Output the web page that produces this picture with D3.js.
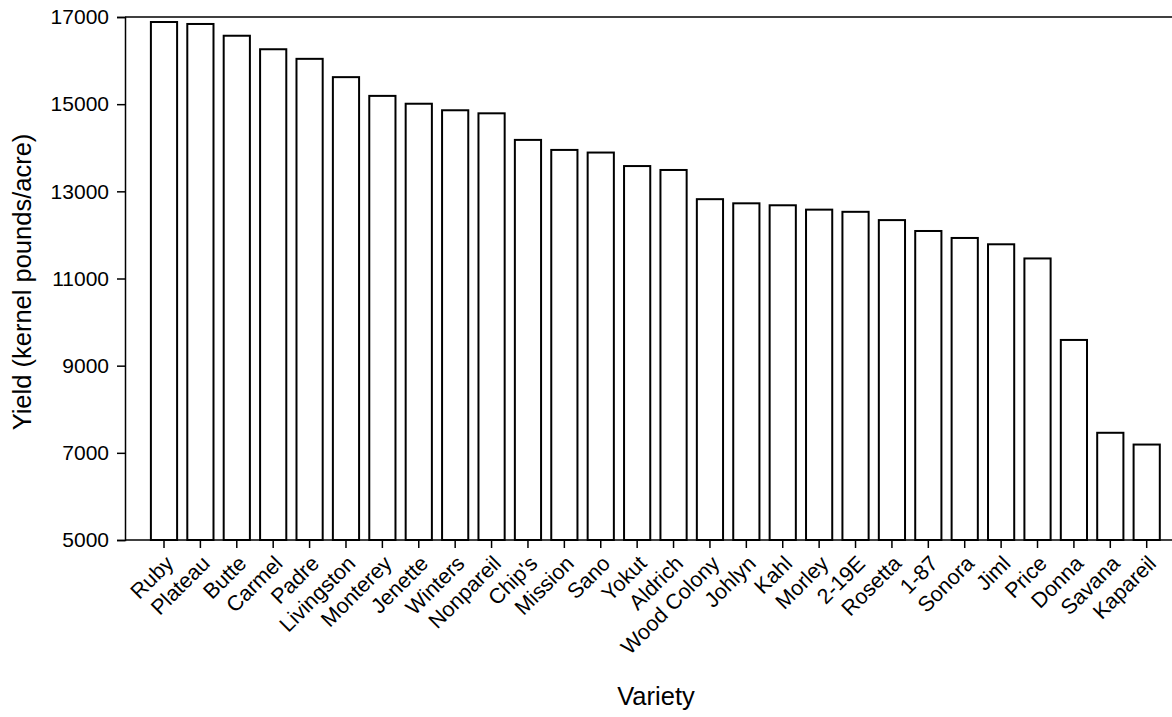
<!DOCTYPE html>
<html><head><meta charset="utf-8">
<script src="https://cdn.jsdelivr.net/npm/d3@7"></script>
<style>body{margin:0;background:#fff}svg{display:block}text{font-family:"Liberation Sans",Arial,sans-serif;fill:#000}</style>
</head><body><svg id="c" width="1172" height="717"></svg>
<script>
const categories = ["Ruby","Plateau","Butte","Carmel","Padre","Livingston","Monterey","Jenette","Winters","Nonpareil","Chip's","Mission","Sano","Yokut","Aldrich","Wood Colony","Johlyn","Kahl","Morley","2-19E","Rosetta","1-87","Sonora","Jiml","Price","Donna","Savana","Kapareil"];
const yields = [16885,16840,16570,16260,16040,15620,15190,15010,14860,14790,14180,13950,13890,13580,13490,12820,12725,12680,12580,12530,12340,12090,11930,11785,11460,9590,7460,7190];
const yTicks = [5000,7000,9000,11000,13000,15000,17000];
const yTitle = "Yield (kernel pounds/acre)";
const xTitle = "Variety";

const svg = d3.select("#c");
const mLeft = 125, mRight = 1172, mTop = 17, mBottom = 540;
const y = d3.scaleLinear().domain([5000,17000]).range([mBottom, mTop]);
const step = (1146.7 - 164) / 27;
const x = d3.scaleBand().domain(categories).range([164 - step/2, 1146.7 + step/2]).paddingInner(0.28).paddingOuter(0.14);

// bars
svg.append("g").selectAll("rect").data(categories).join("rect")
  .attr("x", d => x(d))
  .attr("y", (d,i) => y(yields[i]))
  .attr("width", x.bandwidth())
  .attr("height", (d,i) => y(5000) - y(yields[i]))
  .attr("fill", "#fff").attr("stroke", "#000").attr("stroke-width", 2);

// y axis
const ya = svg.append("g").attr("transform", `translate(${mLeft},0)`)
  .call(d3.axisLeft(y).tickValues(yTicks).tickFormat(d3.format("d")).tickSize(8).tickPadding(8));
ya.select(".domain").attr("stroke-width", 1.5);
ya.selectAll(".tick line").attr("stroke-width", 1.5);
ya.selectAll("text").style("font-size", "21px").style("font-family", "'Liberation Sans', Arial, sans-serif");

// x axis
const xa = svg.append("g").attr("transform", `translate(0,${mBottom})`)
  .call(d3.axisBottom(x).tickSize(8).tickSizeOuter(0).tickFormat(""));
xa.select(".domain").attr("d", `M${mLeft},0H${mRight}`).attr("stroke-width", 1.5);
xa.selectAll(".tick line").attr("stroke-width", 1.5);

// top border
svg.append("line").attr("x1", mLeft).attr("x2", mRight).attr("y1", mTop).attr("y2", mTop)
  .attr("stroke", "#000").attr("stroke-width", 1.5);

// x labels rotated
svg.append("g").selectAll("text").data(categories).join("text")
  .attr("transform", d => `translate(${x(d) + x.bandwidth()/2},${mBottom + 14}) rotate(-45)`)
  .attr("text-anchor", "end")
  .attr("dy", "0.71em")
  .style("font-size", "21.5px")
  .text(d => d);

// titles
svg.append("text").attr("transform", `translate(31,282) rotate(-90)`)
  .attr("text-anchor", "middle").style("font-size", "25.5px").text(yTitle);
svg.append("text").attr("x", 656).attr("y", 705).attr("text-anchor", "middle")
  .style("font-size", "25.5px").text(xTitle);
</script></body></html>
